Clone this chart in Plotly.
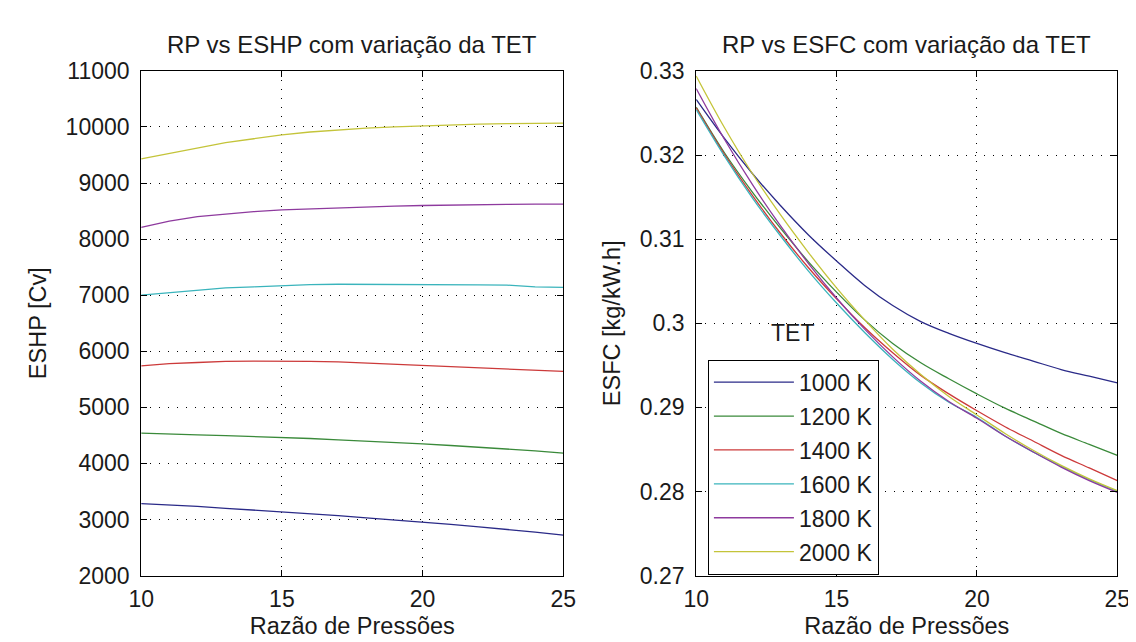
import plotly.graph_objects as go

# ---------------- data ----------------
rp = [10, 11, 12, 13, 14, 15, 16, 17, 18, 19, 20, 21, 22, 23, 24, 25]
tet_labels = ["1000 K", "1200 K", "1400 K", "1600 K", "1800 K", "2000 K"]

eshp_1000 = [3285, 3265, 3235, 3200, 3170, 3140, 3105, 3070, 3030, 2995, 2955, 2915, 2870, 2825, 2775, 2720]
eshp_1200 = [4540, 4530, 4510, 4495, 4480, 4465, 4445, 4420, 4400, 4375, 4350, 4320, 4290, 4260, 4225, 4185]
eshp_1400 = [5740, 5780, 5800, 5820, 5825, 5825, 5820, 5810, 5790, 5770, 5750, 5730, 5710, 5690, 5665, 5640]
eshp_1600 = [7000, 7040, 7090, 7130, 7150, 7170, 7190, 7195, 7195, 7195, 7190, 7190, 7185, 7180, 7150, 7140]
eshp_1800 = [8210, 8320, 8400, 8450, 8490, 8520, 8540, 8560, 8580, 8590, 8600, 8610, 8620, 8620, 8625, 8625]
eshp_2000 = [9430, 9530, 9630, 9720, 9790, 9860, 9910, 9950, 9980, 10000, 10020, 10040, 10050, 10060, 10070, 10070]

esfc_1000 = [0.3266, 0.3220, 0.3178, 0.3140, 0.3105, 0.3074, 0.3045, 0.3021, 0.3002, 0.2988, 0.2976, 0.2965, 0.2955, 0.2945, 0.2937, 0.2929]
esfc_1200 = [0.3257, 0.3203, 0.3156, 0.3113, 0.3073, 0.3037, 0.3004, 0.2976, 0.2953, 0.2934, 0.2916, 0.2899, 0.2884, 0.2869, 0.2856, 0.2843]
esfc_1400 = [0.3256, 0.3201, 0.3152, 0.3107, 0.3066, 0.3029, 0.2995, 0.2965, 0.2938, 0.2916, 0.2896, 0.2877, 0.2860, 0.2843, 0.2828, 0.2813]
esfc_1600 = [0.3254, 0.3199, 0.3149, 0.3104, 0.3062, 0.3024, 0.2989, 0.2957, 0.2929, 0.2906, 0.2888, 0.2866, 0.2847, 0.2830, 0.2814, 0.2800]
esfc_1800 = [0.3279, 0.3219, 0.3165, 0.3116, 0.3071, 0.3030, 0.2993, 0.2960, 0.2931, 0.2907, 0.2887, 0.2866, 0.2847, 0.2829, 0.2813, 0.2799]
esfc_2000 = [0.3294, 0.3233, 0.3178, 0.3129, 0.3084, 0.3042, 0.3004, 0.2969, 0.2939, 0.2913, 0.2891, 0.2869, 0.2849, 0.2831, 0.2815, 0.2801]

x_ticks = [10, 15, 20, 25]
x_ticktext = ["10", "15", "20", "25"]
eshp_ticks = [2000, 3000, 4000, 5000, 6000, 7000, 8000, 9000, 10000, 11000]
eshp_ticktext = ["2000", "3000", "4000", "5000", "6000", "7000", "8000", "9000", "10000", "11000"]
esfc_ticks = [0.27, 0.28, 0.29, 0.30, 0.31, 0.32, 0.33]
esfc_ticktext = ["0.27", "0.28", "0.29", "0.3", "0.31", "0.32", "0.33"]

eshp_series = [eshp_1000, eshp_1200, eshp_1400, eshp_1600, eshp_1800, eshp_2000]
esfc_series = [esfc_1000, esfc_1200, esfc_1400, esfc_1600, esfc_1800, esfc_2000]

# ---------------- style ----------------
colors = ["#2a2a88", "#3a8a3a", "#cc3a3a", "#3ab4bc", "#8e3a9e", "#c4c43a"]
FONT = "Liberation Sans, Arial, sans-serif"
TXT = "#1a1a1a"

fig = go.Figure()
for i, lab in enumerate(tet_labels):
    fig.add_trace(go.Scatter(x=rp, y=eshp_series[i], mode="lines", name=lab,
                             line=dict(color=colors[i], width=1.3), showlegend=False,
                             xaxis="x", yaxis="y"))
for i, lab in enumerate(tet_labels):
    fig.add_trace(go.Scatter(x=rp, y=esfc_series[i], mode="lines", name=lab,
                             line=dict(color=colors[i], width=1.3, shape="spline"),
                             legendgroup=lab, showlegend=True,
                             xaxis="x2", yaxis="y2"))

W, H = 1136, 642
xl = [123 / W, 555 / W]
xr = [691 / W, 1122 / W]
yd = [1 - 578 / H, 1 - 52 / H]

axis_common = dict(
    showline=True, linecolor="black", linewidth=1, mirror="allticks",
    ticks="inside", ticklen=6, tickcolor="black", tickwidth=1,
    showgrid=True, gridcolor="black", gridwidth=1, griddash="1px,8px",
    zeroline=False,
    tickfont=dict(family=FONT, size=23, color=TXT),
)
xcommon = dict(axis_common, ticklabelstandoff=3)
ycommon = dict(axis_common, ticklabelstandoff=6)

fig.update_layout(
    width=W, height=H,
    margin=dict(l=0, r=0, t=0, b=0),
    paper_bgcolor="white", plot_bgcolor="white",
    font=dict(family=FONT, size=23, color=TXT),
    xaxis=dict(domain=xl, range=[10, 25], tickvals=x_ticks, ticktext=x_ticktext,
               anchor="y",
               title=dict(text="Razão de Pressões", font=dict(size=23.5), standoff=6),
               **xcommon),
    yaxis=dict(domain=yd, range=[2000, 11000], tickvals=eshp_ticks, ticktext=eshp_ticktext,
               anchor="x",
               title=dict(text="ESHP [Cv]", font=dict(size=23.5), standoff=12),
               **ycommon),
    xaxis2=dict(domain=xr, range=[10, 25], tickvals=x_ticks, ticktext=x_ticktext,
                anchor="y2",
                title=dict(text="Razão de Pressões", font=dict(size=23.5), standoff=6),
                **xcommon),
    yaxis2=dict(domain=yd, range=[0.27, 0.33], tickvals=esfc_ticks, ticktext=esfc_ticktext,
                anchor="x2",
                title=dict(text="ESFC [kg/kW.h]", font=dict(size=23.5), standoff=12),
                **ycommon),
    legend=dict(x=703 / W, y=1 - 353 / H, xanchor="left", yanchor="top",
                bgcolor="white", bordercolor="black", borderwidth=1,
                font=dict(family=FONT, size=23, color=TXT),
                tracegroupgap=1, itemwidth=80),
    annotations=[
        dict(text="RP vs ESHP com variação da TET", xref="paper", yref="paper",
             x=(xl[0] + xl[1]) / 2, y=1 - 24 / H, xanchor="center", yanchor="middle",
             showarrow=False, font=dict(family=FONT, size=24, color=TXT)),
        dict(text="RP vs ESFC com variação da TET", xref="paper", yref="paper",
             x=(xr[0] + xr[1]) / 2, y=1 - 24 / H, xanchor="center", yanchor="middle",
             showarrow=False, font=dict(family=FONT, size=24, color=TXT)),
        dict(text="TET", xref="paper", yref="paper",
             x=790 / W, y=1 - 325 / H, xanchor="center", yanchor="middle",
             showarrow=False, font=dict(family=FONT, size=23, color=TXT)),
    ],
)

fig.write_html("out.html")
